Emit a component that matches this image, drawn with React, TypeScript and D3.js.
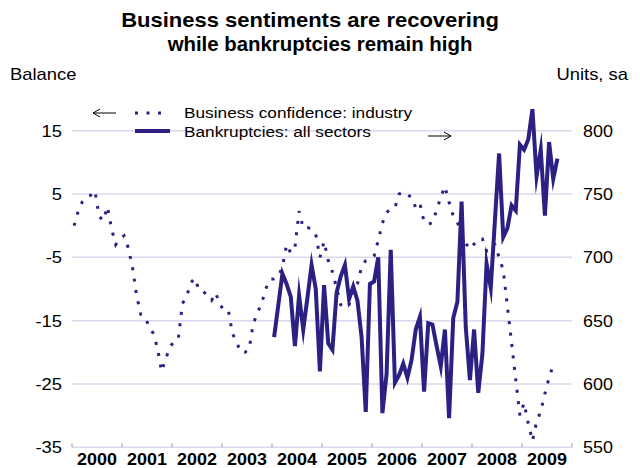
import React from "react";
import * as d3 from "d3";

// Business confidence: industry (balance), monthly from Jan 2000
const confidence: number[] = [
  0.0, 2.3, 3.8, 4.5, 4.8, 5.5, 1.5, 0.8, 3.0, -0.5, -3.0, -2.0,
  -1.6, -3.5, -6.5, -11.0, -14.0, -14.3, -16.0, -17.0, -19.3, -23.0, -21.0, -19.2,
  -18.2, -17.9, -12.3, -11.2, -9.0, -8.3, -10.2, -10.4, -11.0, -11.8, -10.6, -12.5,
  -13.3, -13.3, -17.0, -18.4, -20.0, -20.0, -19.5, -15.5, -13.8, -12.3, -10.0, -8.5,
  -8.4, -8.0, -6.5, -3.0, -4.3, -3.5, 2.3, -0.4, -0.3, -0.5, -1.4, -5.0,
  -2.5, -5.5, -7.3, -9.8, -12.5, -13.0, -12.5, -10.2, -9.2, -6.5, -5.5, -5.1,
  -4.8, -2.3, 0.4, 2.1, 2.6, 2.8, 5.0, 5.3, 4.9, 4.5, 2.8, 3.5,
  0.6, 0.2, 0.5, 2.4, 4.5, 6.2, 3.7, 1.5, 0.5, -1.2, -2.8, -3.7,
  -2.9, -2.1, -2.1, -4.0, -3.0, -3.0, -5.0, -7.0, -12.8, -18.5, -24.3, -30.0,
  -28.0, -31.2, -34.0, -31.0, -29.3, -26.5, -24.0, -22.0,
];
const confidenceStart = 0; // months after Jan 2000

// Bankruptcies: all sectors (units, sa), monthly from Jan 2004
const bankruptcies: number[] = [
  637, 662, 687, 679, 669, 630, 670, 643, 668, 694, 675, 610,
  678, 632, 627, 672, 685, 694, 667, 677, 666, 637, 578, 679,
  681, 700, 577, 608, 706, 601, 607, 616, 605, 619, 643, 653,
  594, 648, 647, 630, 614, 643, 573, 652, 665, 744, 645, 603,
  643, 593, 624, 695, 676, 729, 782, 716, 723, 741, 737, 789,
  785, 793, 817, 764, 785, 733, 791, 762, 778,
];
const bankruptciesStart = 48; // months after Jan 2000

const years = ["2000", "2001", "2002", "2003", "2004", "2005", "2006", "2007", "2008", "2009"];
const leftTicks = [15, 5, -5, -15, -25, -35];
const rightTicks = [800, 750, 700, 650, 600, 550];

const W = 640;
const H = 468;
const left = 72;
const right = 572;
const top = 130.7;
const bottom = 447.3;

const INK = "#2c2183";
const GRID = "#dad7ee";
const FONT = "'Liberation Sans', Arial, Helvetica, sans-serif";

export default function App() {
  const x = d3.scaleLinear().domain([0, years.length * 12]).range([left, right]);
  const yL = d3.scaleLinear().domain([-35, 15]).range([bottom, top]);
  const yR = d3.scaleLinear().domain([550, 800]).range([bottom, top]);

  const confLine = d3
    .line<number>()
    .x((_, i) => x(confidenceStart + i + 0.5))
    .y((d) => yL(d));
  const bankLine = d3
    .line<number>()
    .x((_, i) => x(bankruptciesStart + i + 0.5))
    .y((d) => yR(d));

  const yearTicks = d3.range(years.length + 1).map((i) => i * 12);

  return (
    <svg
      width={W}
      height={H}
      style={{ position: "absolute", left: 0, top: 0, background: "#fff" }}
      fontFamily={FONT}
    >
      <rect x={0} y={0} width={W} height={H} fill="#fff" />
      {/* title */}
      <g fontWeight="bold" fontSize={20} fill="#000" textAnchor="middle">
        <text transform="translate(310,27) scale(1.1,1)">Business sentiments are recovering</text>
        <text transform="translate(320,51) scale(1.02,1)">while bankruptcies remain high</text>
      </g>
      {/* axis unit labels */}
      <text transform="translate(10,80) scale(1.15,1)" fontSize={16} fill="#000">
        Balance
      </text>
      <text transform="translate(628,80) scale(1.15,1)" fontSize={16} fill="#000" textAnchor="end">
        Units, sa
      </text>

      {/* gridlines */}
      {leftTicks.map((t) => (
        <line key={"g" + t} x1={left} x2={right} y1={yL(t)} y2={yL(t)} stroke={GRID} strokeWidth={1.5} />
      ))}
      {/* x ticks */}
      {yearTicks.map((m) => (
        <line key={"xt" + m} x1={x(m)} x2={x(m)} y1={bottom} y2={bottom - 4} stroke="#999" strokeWidth={1} />
      ))}
      {/* left labels */}
      {leftTicks.map((t) => (
        <text
          key={"l" + t}
          transform={`translate(62,${yL(t) + 6}) scale(1.15,1)`}
          fontSize={16}
          textAnchor="end"
          fill="#000"
        >
          {t}
        </text>
      ))}
      {/* right labels */}
      {rightTicks.map((t) => (
        <text
          key={"r" + t}
          transform={`translate(583,${yR(t) + 6}) scale(1.12,1)`}
          fontSize={16}
          fill="#000"
        >
          {t}
        </text>
      ))}
      {/* year labels */}
      {years.map((yr, i) => (
        <text
          key={yr}
          transform={`translate(${x(i * 12 + 6)},465) scale(1.12,1)`}
          fontSize={16}
          fontWeight="bold"
          textAnchor="middle"
          fill="#000"
        >
          {yr}
        </text>
      ))}

      {/* series */}
      <path d={bankLine(bankruptcies) || ""} fill="none" stroke={INK} strokeWidth={4} strokeLinejoin="miter" strokeMiterlimit={10} />
      <path
        d={confLine(confidence) || ""}
        fill="none"
        stroke={INK}
        strokeWidth={3}
        strokeDasharray="3 8.5"
        strokeLinecap="butt"
      />

      {/* legend */}
      <line x1={135} x2={165} y1={113} y2={113} stroke={INK} strokeWidth={3} strokeDasharray="3 8.5" />
      <line x1={135} x2={170} y1={131} y2={131} stroke={INK} strokeWidth={4} />
      <g fontSize={15} fill="#000">
        <text transform="translate(184,118) scale(1.15,1)">Business confidence: industry</text>
        <text transform="translate(184,137) scale(1.15,1)">Bankruptcies: all sectors</text>
      </g>
      {/* arrows */}
      <g stroke="#000" strokeWidth={1} fill="none">
        <line x1={93} x2={116} y1={113} y2={113} />
        <polyline points="100,109 93,113 100,117" />
        <line x1={428} x2={451} y1={136} y2={136} />
        <polyline points="444,132 451,136 444,140" />
      </g>
    </svg>
  );
}
